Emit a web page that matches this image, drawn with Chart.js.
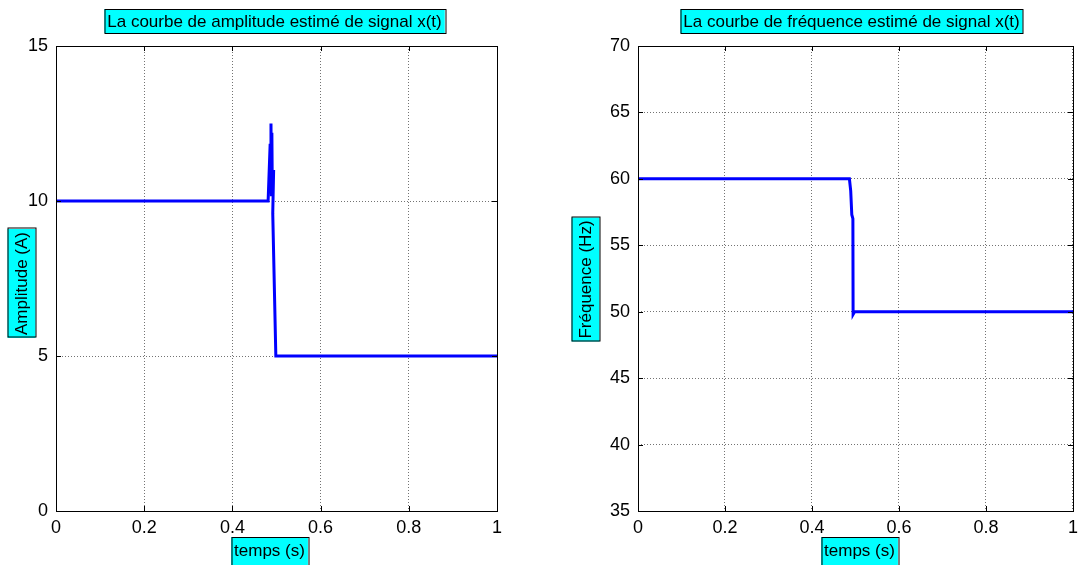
<!DOCTYPE html>
<html>
<head>
<meta charset="utf-8">
<script src="https://cdn.jsdelivr.net/npm/chart.js@4/dist/chart.umd.min.js"></script>
<style>
  html, body { margin: 0; padding: 0; background: #fff; }
  #wrap { position: relative; width: 1084px; height: 565px; overflow: hidden; }
  canvas { position: absolute; top: 0; }
</style>
</head>
<body>
<div id="wrap">
  <canvas id="ampChart" width="542" height="565" style="left:0"></canvas>
  <canvas id="freqChart" width="542" height="565" style="left:542px"></canvas>
</div>
<script>
// Données
const xTicks = [0, 0.2, 0.4, 0.6, 0.8, 1];
const xTickLabels = ["0", "0.2", "0.4", "0.6", "0.8", "1"];

const ampTicks = [0, 5, 10, 15];
const tAmp = [0, 0.481, 0.4855, 0.4875, 0.4885, 0.4895, 0.4905, 0.4935, 0.4915, 0.4985, 1];
const amp  = [10, 10, 11.8, 12.5, 10.2, 12.2, 10.3, 11.0, 9.6, 5, 5];

const freqTicks = [35, 40, 45, 50, 55, 60, 65, 70];
const tFreq = [0, 0.486, 0.489, 0.4915, 0.494, 0.4945, 0.498, 1];
const freq  = [60, 60, 59.1, 57.3, 57.0, 49.8, 50, 50];

const FONT = "Liberation Sans, Arial, sans-serif";

// Boîtes cyan (titre, labels) + cadre et graduations vers l'intérieur, style MATLAB
const matlabDeco = {
  id: "matlabDeco",
  afterDatasetsDraw(chart, args, opts) {
    const ctx = chart.ctx;
    const a = chart.chartArea;
    const xs = chart.scales.x, ys = chart.scales.y;
    ctx.save();

    // cadre
    ctx.strokeStyle = "#000";
    ctx.lineWidth = 1;
    ctx.strokeRect(Math.round(a.left) + 0.5, Math.round(a.top) + 0.5,
                   Math.round(a.right - a.left), Math.round(a.bottom - a.top));

    // graduations
    ctx.beginPath();
    xs.ticks.forEach(t => {
      const px = Math.round(xs.getPixelForValue(t.value)) + 0.5;
      ctx.moveTo(px, a.bottom); ctx.lineTo(px, a.bottom - 5);
      ctx.moveTo(px, a.top); ctx.lineTo(px, a.top + 5);
    });
    ys.ticks.forEach(t => {
      const py = Math.round(ys.getPixelForValue(t.value)) + 0.5;
      ctx.moveTo(a.left, py); ctx.lineTo(a.left + 5, py);
      ctx.moveTo(a.right, py); ctx.lineTo(a.right - 5, py);
    });
    ctx.stroke();

    ctx.font = "17px " + FONT;
    ctx.textBaseline = "middle";
    ctx.textAlign = "center";

    const box = (text, cx, cy, h, rotate, textDy) => {
      const w = ctx.measureText(text).width + 6;
      ctx.save();
      ctx.translate(cx, cy);
      if (rotate) ctx.rotate(-Math.PI / 2);
      ctx.fillStyle = "#00ffff";
      ctx.fillRect(-w / 2, -h / 2, w, h);
      ctx.strokeStyle = "#000";
      ctx.lineWidth = 1;
      ctx.strokeRect(Math.round(-w / 2) + 0.5, Math.round(-h / 2) + 0.5, Math.round(w), h);
      ctx.fillStyle = "#000";
      ctx.fillText(text, 0, textDy);
      ctx.restore();
    };

    const midX = (a.left + a.right) / 2;
    const midY = (a.top + a.bottom) / 2;
    box(opts.title, midX + opts.titleDx, 21, 24, false, 1);
    box(opts.xlabel, midX + opts.xlabelDx, 553, 32, false, -2);
    box(opts.ylabel, opts.ylabelX, midY + opts.ylabelDy, 28, true, 1);

    ctx.restore();
  }
};

function makeChart(id, xs, ys, yTicks, deco, yWidth, padRight) {
  const points = xs.map((x, i) => ({ x: x, y: ys[i] }));
  return new Chart(document.getElementById(id), {
    type: "line",
    data: {
      datasets: [{
        data: points,
        borderColor: "#0000ff",
        borderWidth: 3,
        pointRadius: 0,
        tension: 0,
        fill: false
      }]
    },
    options: {
      responsive: false,
      animation: false,
      devicePixelRatio: 1,
      layout: { padding: { left: 0, top: 46, right: padRight, bottom: 0 } },
      plugins: {
        legend: { display: false },
        tooltip: { enabled: false },
        matlabDeco: deco
      },
      scales: {
        x: {
          type: "linear",
          min: xTicks[0],
          max: xTicks[xTicks.length - 1],
          afterBuildTicks: s => { s.ticks = xTicks.map(v => ({ value: v })); },
          afterFit: s => { s.height = 54; },
          grid: { color: "rgba(0,0,0,0.55)", lineWidth: 1, drawTicks: false },
          border: { display: false, dash: [1, 2] },
          ticks: {
            padding: 6,
            color: "#000",
            font: { family: FONT, size: 18 },
            maxRotation: 0,
            autoSkip: false,
            callback: (v, i) => xTickLabels[i]
          }
        },
        y: {
          type: "linear",
          min: yTicks[0],
          max: yTicks[yTicks.length - 1],
          afterBuildTicks: s => { s.ticks = yTicks.map(v => ({ value: v })); },
          afterFit: s => { s.width = yWidth; },
          grid: { color: "rgba(0,0,0,0.55)", lineWidth: 1, drawTicks: false },
          border: { display: false, dash: [1, 2] },
          ticks: {
            padding: 8,
            color: "#000",
            font: { family: FONT, size: 18 },
            autoSkip: false,
            callback: v => String(v)
          }
        }
      }
    },
    plugins: [matlabDeco]
  });
}

makeChart("ampChart", tAmp, amp, ampTicks, {
  title: "La courbe de amplitude estimé de signal x(t)",
  xlabel: "temps (s)",
  ylabel: "Amplitude (A)",
  titleDx: -2, xlabelDx: -7, ylabelX: 21.5, ylabelDy: 5
}, 56, 45);

makeChart("freqChart", tFreq, freq, freqTicks, {
  title: "La courbe de fréquence estimé de signal x(t)",
  xlabel: "temps (s)",
  ylabel: "Fréquence (Hz)",
  titleDx: -4, xlabelDx: 4, ylabelX: 43.5, ylabelDy: 1
}, 96, 8);
</script>
</body>
</html>
